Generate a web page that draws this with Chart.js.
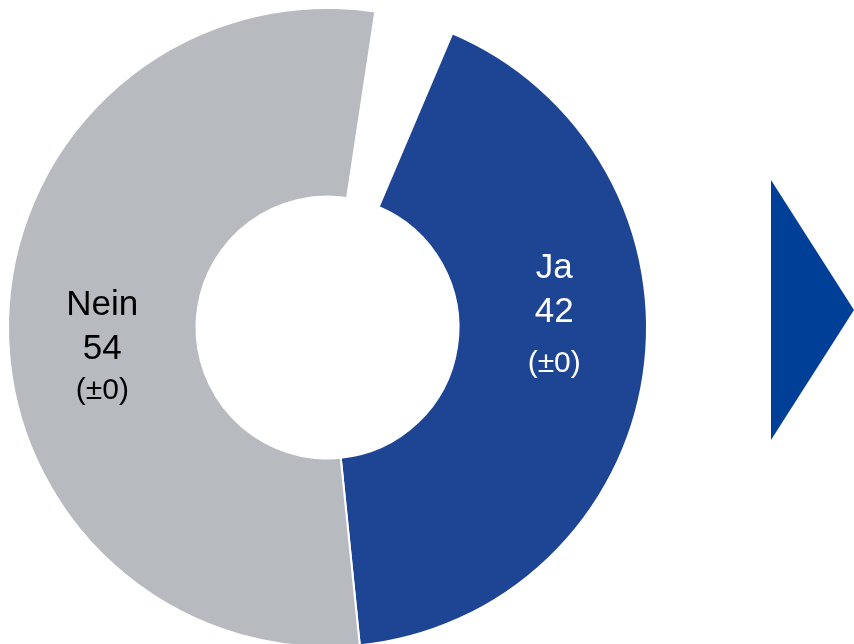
<!DOCTYPE html>
<html>
<head>
<meta charset="utf-8">
<script src="https://cdn.jsdelivr.net/npm/chart.js@4.4.0/dist/chart.umd.min.js"></script>
<style>
  html, body { margin: 0; padding: 0; background: #fff; overflow: hidden; }
  body { width: 854px; height: 644px; position: relative; }
  #pie { position: absolute; left: 0; top: 0; }
  #arrow {
    position: absolute; left: 771px; top: 180px; width: 83px; height: 260px;
    background: #003f98;
    clip-path: polygon(0 0, 100% 50%, 0 100%);
  }
</style>
</head>
<body>
<canvas id="pie" width="655" height="655"></canvas>
<div id="arrow"></div>
<script>
const categories = ["Ja", "Nein", "weiß nicht"]
const values = [42, 54, 4]
const changes = ["(±0)", "(±0)", ""]
const colors = ["#1e4494", "#b7bbbf", "rgba(0,0,0,0)"]
const textColors = ["#ffffff", "#000000", "#000000"]

// per-label nudges around the slice centroid, and baselines from chart centre
const labelDx = [4, 0, 0]
const labelRows = [[-50, -6, 44], [-13, 31, 71]]

const sliceLabels = {
  id: "sliceLabels",
  afterDatasetsDraw(chart) {
    const ctx = chart.ctx
    const meta = chart.getDatasetMeta(0)
    ctx.save()
    ctx.textAlign = "center"
    ctx.textBaseline = "alphabetic"
    meta.data.forEach((arc, i) => {
      if (!labelRows[i]) return
      const pos = arc.tooltipPosition()
      const x = pos.x + labelDx[i]
      const cy = arc.y
      ctx.fillStyle = textColors[i]
      ctx.font = "35px 'Liberation Sans', Arial, sans-serif"
      ctx.fillText(categories[i], x, cy + labelRows[i][0])
      ctx.fillText(String(values[i]), x, cy + labelRows[i][1])
      ctx.font = "30px 'Liberation Sans', Arial, sans-serif"
      ctx.fillText(changes[i], x, cy + labelRows[i][2])
    })
    ctx.restore()
  }
}

new Chart(document.getElementById("pie"), {
  type: "doughnut",
  data: {
    labels: categories,
    datasets: [{
      data: values,
      backgroundColor: colors,
      borderColor: ["#ffffff", "#ffffff", "rgba(0,0,0,0)"],
      borderWidth: [2, 2, 0],
      hoverOffset: 0
    }]
  },
  options: {
    responsive: false,
    devicePixelRatio: 1,
    animation: false,
    rotation: 23,
    cutout: "41%",
    layout: { padding: 7 },
    plugins: {
      legend: { display: false },
      tooltip: { enabled: false }
    }
  },
  plugins: [sliceLabels]
})
</script>
</body>
</html>
